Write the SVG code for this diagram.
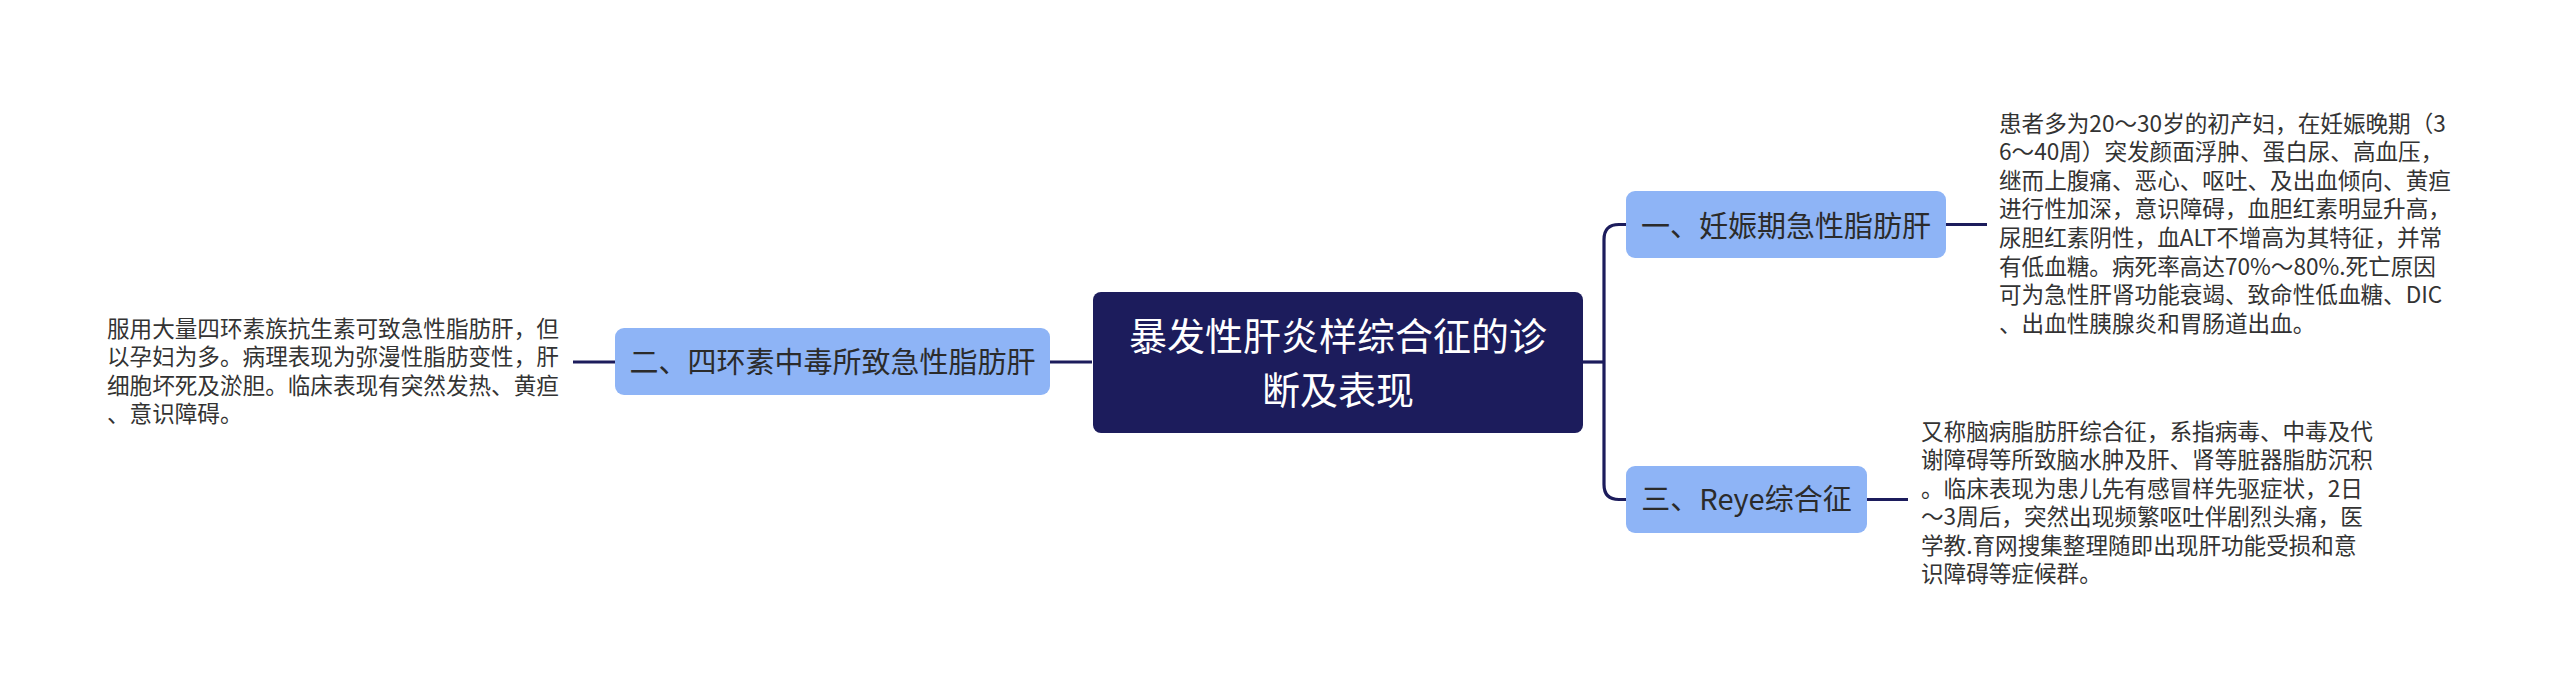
<svg xmlns="http://www.w3.org/2000/svg" width="2560" height="695" viewBox="0 0 2560 695">
<style>
.conn{fill:none;stroke:#1c1c5c;stroke-width:3.2}
.root{fill:#1c1c5c}
.sub{fill:#8eb4f6}
.rt{font-family:"Noto Sans CJK SC","Noto Sans",sans-serif;font-size:38px;fill:#ffffff;text-anchor:middle}
.st{font-family:"Noto Sans CJK SC","Noto Sans",sans-serif;font-size:29px;fill:#2b2b2b;text-anchor:middle}
.bt{font-family:"Noto Sans CJK SC","Noto Sans",sans-serif;font-size:22.6px;fill:#333333}
</style>
<rect width="2560" height="695" fill="#ffffff"/>
<g id="connectors">
<path class="conn" d="M1583,362 H1604"/>
<path class="conn" d="M1626,224.5 H1619 Q1604,224.5 1604,239.5 V484.5 Q1604,499.5 1619,499.5 H1626"/>
<path class="conn" d="M1946,224.5 H1987"/>
<path class="conn" d="M1867,499.5 H1908"/>
<path class="conn" d="M1092,362 H1050"/>
<path class="conn" d="M615,362 H573"/>
</g>
<g id="root">
<rect class="root" x="1093" y="292" width="490" height="141" rx="8"/>
<text class="rt" x="1338" y="350">暴发性肝炎样综合征的诊</text>
<text class="rt" x="1338" y="404">断及表现</text>
</g>
<g id="node1">
<rect class="sub" x="1626" y="191" width="320" height="67" rx="9"/>
<text class="st" x="1786" y="236.5">一、妊娠期急性脂肪肝</text>
</g>
<g id="node2">
<rect class="sub" x="615" y="328" width="435" height="67" rx="9"/>
<text class="st" x="832.5" y="372.5">二、四环素中毒所致急性脂肪肝</text>
</g>
<g id="node3">
<rect class="sub" x="1626" y="466" width="241" height="67" rx="9"/>
<text class="st" x="1746.5" y="510">三、Reye综合征</text>
</g>
<g id="note1">
<text class="bt" x="1999" y="131.5">患者多为20～30岁的初产妇，在妊娠晚期（3</text>
<text class="bt" x="1999" y="160.1">6～40周）突发颜面浮肿、蛋白尿、高血压，</text>
<text class="bt" x="1999" y="188.7">继而上腹痛、恶心、呕吐、及出血倾向、黄疸</text>
<text class="bt" x="1999" y="217.3">进行性加深，意识障碍，血胆红素明显升高，</text>
<text class="bt" x="1999" y="245.9">尿胆红素阴性，血ALT不增高为其特征，并常</text>
<text class="bt" x="1999" y="274.5">有低血糖。病死率高达70%～80%.死亡原因</text>
<text class="bt" x="1999" y="303.1">可为急性肝肾功能衰竭、致命性低血糖、DIC</text>
<text class="bt" x="1999" y="331.7">、出血性胰腺炎和胃肠道出血。</text>
</g>
<g id="note2">
<text class="bt" x="107" y="336.5">服用大量四环素族抗生素可致急性脂肪肝，但</text>
<text class="bt" x="107" y="365">以孕妇为多。病理表现为弥漫性脂肪变性，肝</text>
<text class="bt" x="107" y="393.5">细胞坏死及淤胆。临床表现有突然发热、黄疸</text>
<text class="bt" x="107" y="422">、意识障碍。</text>
</g>
<g id="note3">
<text class="bt" x="1921" y="439.5">又称脑病脂肪肝综合征，系指病毒、中毒及代</text>
<text class="bt" x="1921" y="468">谢障碍等所致脑水肿及肝、肾等脏器脂肪沉积</text>
<text class="bt" x="1921" y="496.5">。临床表现为患儿先有感冒样先驱症状，2日</text>
<text class="bt" x="1921" y="525">～3周后，突然出现频繁呕吐伴剧烈头痛，医</text>
<text class="bt" x="1921" y="553.5">学教.育网搜集整理随即出现肝功能受损和意</text>
<text class="bt" x="1921" y="582">识障碍等症候群。</text>
</g>
</svg>
